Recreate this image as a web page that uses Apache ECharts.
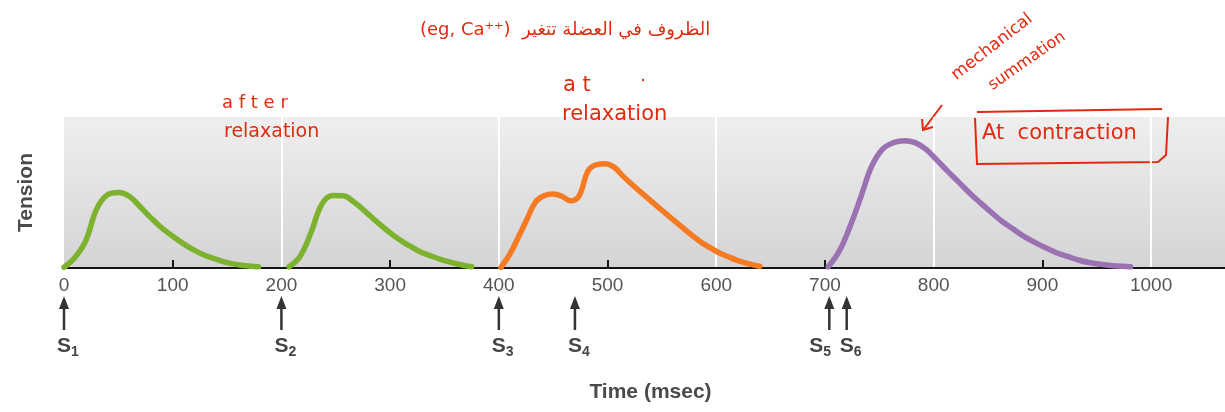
<!DOCTYPE html>
<html>
<head>
<meta charset="utf-8">
<script src="https://cdn.jsdelivr.net/npm/echarts@6/dist/echarts.min.js"></script>
<style>html,body{margin:0;padding:0;background:#fff;}#c{width:1225px;height:412px;}</style>
</head>
<body>
<div id="c"></div>
<script>
// ---- data ----
const xTickLabels = [0, 100, 200, 300, 400, 500, 600, 700, 800, 900, 1000];
const tickMarks = [100, 300, 500, 700, 900];

const twitch1T = [0, 10, 20, 30, 40, 50, 60, 70, 80, 90, 100, 110, 120, 130, 140, 150, 160, 170, 179];
const twitch1V = [0.5, 7, 18, 39, 48.5, 50, 47.5, 40.6, 33.2, 26.5, 21, 16, 11.7, 8.3, 5.8, 3.6, 2.2, 1.3, 0.8];

const twitch2T = [207, 217, 227, 237, 247, 257, 267, 277, 287, 297, 307, 317, 327, 337, 347, 357, 367, 375];
const twitch2V = [0.8, 7.5, 23, 42, 48, 47.8, 43.5, 37.5, 31, 25, 19.5, 15, 11, 8.2, 5.6, 3.5, 1.8, 0.8];

const summ1T = [402, 410, 418, 426, 434, 442, 450, 458, 466, 474, 482, 490, 498, 506, 514, 522, 530, 538, 546, 554, 562, 570, 578, 586, 594, 602, 610, 618, 626, 634, 640];
const summ1V = [0.5, 9, 20.5, 32.5, 44, 48, 49, 47.5, 44.5, 48, 64.2, 68.4, 69, 66.8, 61, 55.6, 50.6, 45.6, 40.7, 35.8, 31, 26.2, 21.5, 17, 13.6, 10.3, 7.8, 5.4, 3.5, 2.1, 1.2];

const summ2T = [703, 713, 723, 733, 743, 753, 763, 773, 783, 793, 803, 813, 823, 833, 843, 853, 863, 873, 883, 893, 903, 913, 923, 933, 943, 953, 963, 973, 981];
const summ2V = [0.8, 11, 27.4, 47, 67.4, 78.8, 83, 84.3, 83, 78.5, 71.4, 64, 56.9, 49.7, 43.1, 36.8, 30.8, 25.9, 21, 17, 13.4, 10.1, 7.7, 5.3, 3.6, 2.5, 1.7, 1.1, 0.8];

const stimTimes = [0, 200, 400, 470, 704, 720];
const stimLabels = ['1', '2', '3', '4', '5', '6'];

const xMax = 1068;
const yMax = 100;

// ---- chart ----
const zip = (a, b) => a.map((t, i) => [t, b[i]]);
const chart = echarts.init(document.getElementById('c'));
const RED = '#e5290e';
const FONT = 'Liberation Sans, Arial, sans-serif';
const HAND = 'DejaVu Sans, sans-serif';

function lineSeries(name, T, V, color) {
  return {
    name, type: 'line', xAxisIndex: 0, yAxisIndex: 0,
    data: zip(T, V), smooth: 0.4, showSymbol: false, symbol: 'none',
    lineStyle: { color, width: 5.5, cap: 'round', join: 'round' },
    z: 3, silent: true
  };
}

const option = {
  animation: false,
  grid: {
    left: 64, right: 0, top: 117, bottom: 144,
    show: true, borderWidth: 0,
    backgroundColor: new echarts.graphic.LinearGradient(0, 0, 0, 1, [
      { offset: 0, color: '#efeff0' },
      { offset: 1, color: '#d4d4d6' }
    ])
  },
  xAxis: [
    {
      type: 'value', min: 0, max: xMax, interval: 100, position: 'bottom',
      name: 'Time (msec)', nameLocation: 'middle', nameGap: 114,
      nameTextStyle: { fontSize: 21, color: '#4a4a4a', fontFamily: FONT, fontWeight: 'bold', padding: [0, 0, 0, 12] },
      axisLine: { show: true, onZero: false, lineStyle: { color: '#151515', width: 2 } },
      axisTick: { show: true, inside: true, length: 8, customValues: tickMarks, lineStyle: { color: '#151515', width: 2 } },
      axisLabel: { show: true, color: '#555', fontSize: 19, fontFamily: FONT, margin: 8, customValues: xTickLabels, formatter: v => String(v) },
      splitLine: { show: false }
    },
    {
      type: 'value', min: 0, max: xMax, interval: 200, position: 'bottom',
      axisLine: { show: false }, axisTick: { show: false }, axisLabel: { show: false },
      splitLine: { show: true, showMinLine: false, showMaxLine: false, lineStyle: { color: '#ffffff', width: 2 } }
    }
  ],
  yAxis: {
    type: 'value', min: 0, max: yMax,
    name: 'Tension', nameLocation: 'middle', nameGap: 27, nameRotate: 90,
    nameTextStyle: { fontSize: 21, color: '#4a4a4a', fontFamily: FONT, fontWeight: 'bold' },
    axisLine: { show: false }, axisTick: { show: false }, axisLabel: { show: false },
    splitLine: { show: false }
  },
  series: [
    lineSeries('twitch1', twitch1T, twitch1V, '#7db22e'),
    lineSeries('twitch2', twitch2T, twitch2V, '#7db22e'),
    lineSeries('summ1', summ1T, summ1V, '#f57a22'),
    lineSeries('summ2', summ2T, summ2V, '#9a72b2'),
    {
      type: 'custom', xAxisIndex: 0, yAxisIndex: 0, clip: false, silent: true, z: 5,
      data: stimTimes.map((t, i) => [t, 0, i]),
      renderItem: function (params, api) {
        const t = api.value(0);
        const i = api.value(2);
        const p = api.coord([t, 0]);
        const x = p[0], y = p[1];
        const next = stimTimes[i + 1];
        const crowded = next !== undefined && next - t < 40;
        const lx = crowded ? x - 13 : x;
        return {
          type: 'group',
          children: [
            { type: 'line', shape: { x1: x, y1: y + 38, x2: x, y2: y + 62 }, style: { stroke: '#333', lineWidth: 2.5 } },
            { type: 'polygon', shape: { points: [[x, y + 28], [x - 5, y + 41], [x + 5, y + 41]] }, style: { fill: '#333' } },
            { type: 'text', style: { x: lx, y: y + 78, text: 'S', fontSize: 21, fontWeight: 'bold', fontFamily: FONT, fill: '#444', align: 'center', verticalAlign: 'middle' } },
            { type: 'text', style: { x: lx + 7, y: y + 84, text: stimLabels[i], fontSize: 14, fontWeight: 'bold', fontFamily: FONT, fill: '#444', align: 'left', verticalAlign: 'middle' } }
          ]
        };
      }
    }
  ],
  graphic: [
    { type: 'text', left: 420, top: 21, style: { text: '(eg, Ca\u207A\u207A)  الظروف في العضلة تتغير', fontSize: 18, fontFamily: HAND, fill: RED } },
    { type: 'text', left: 222, top: 94, style: { text: 'a f t e r', fontSize: 18, fontFamily: HAND, fill: RED } },
    { type: 'text', left: 224, top: 123, style: { text: 'relaxation', fontSize: 19, fontFamily: HAND, fill: RED } },
    { type: 'text', left: 563, top: 75, style: { text: 'a t', fontSize: 21, fontFamily: HAND, fill: RED } },
    { type: 'circle', shape: { cx: 643, cy: 80, r: 1.2 }, style: { fill: RED } },
    { type: 'text', left: 562, top: 104, style: { text: 'relaxation', fontSize: 21, fontFamily: HAND, fill: RED } },
    { type: 'text', x: 992, y: 47, rotation: 0.66, style: { text: 'mechanical', fontSize: 17, fontFamily: HAND, fill: RED, align: 'center', verticalAlign: 'middle' } },
    { type: 'text', x: 1027, y: 61, rotation: 0.61, style: { text: 'summation', fontSize: 16, fontFamily: HAND, fill: RED, align: 'center', verticalAlign: 'middle' } },
    { type: 'line', shape: { x1: 942, y1: 105, x2: 924, y2: 129 }, style: { stroke: RED, lineWidth: 2 } },
    { type: 'polyline', shape: { points: [[922, 119], [923, 130], [933, 127]] }, style: { stroke: RED, lineWidth: 2, fill: null } },
    { type: 'text', left: 982, top: 123, style: { text: 'At  contraction', fontSize: 21, fontFamily: HAND, fill: RED } },
    { type: 'line', shape: { x1: 977, y1: 112, x2: 1162, y2: 109 }, style: { stroke: RED, lineWidth: 2 } },
    { type: 'polyline', shape: { points: [[975, 118], [977, 164], [1158, 162], [1166, 155], [1168, 117]] }, style: { stroke: RED, lineWidth: 2, fill: null } }
  ]
};
chart.setOption(option);
</script>
</body>
</html>
